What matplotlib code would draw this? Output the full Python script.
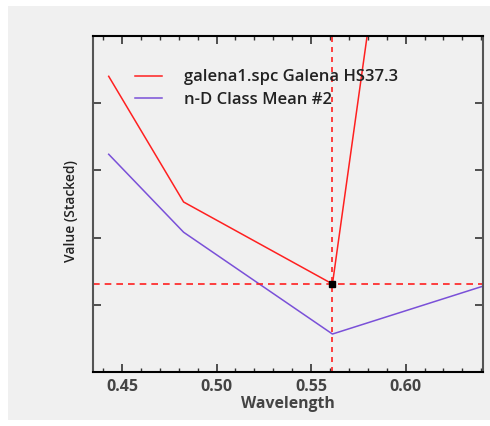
import matplotlib
matplotlib.use("Agg")
import matplotlib.pyplot as plt
from matplotlib.patches import Rectangle
from matplotlib.ticker import MultipleLocator

# Landsat-like band centres (micrometres)
wavelength = [0.4430, 0.4826, 0.5613, 0.6546]
galena = [4.40, 2.53, 1.31, 20.1]
class_mean = [3.24, 2.08, 0.565, 1.40]
cursor_x = 0.5613
cursor_y = 1.31

plt.rcParams['font.family'] = ['Open Sans', 'DejaVu Sans']

fig = plt.figure(figsize=(4.9, 4.26), dpi=100)
fig.patch.set_facecolor('white')
fig.patches.append(Rectangle((8 / 490, 6 / 426), 482 / 490, 414 / 426,
                             transform=fig.transFigure, facecolor='#f0f0f0',
                             edgecolor='none', zorder=-10))

ax = fig.add_axes([93 / 490, 1 - 372 / 426, 390 / 490, 336 / 426])
ax.set_facecolor('#f0f0f0')

ax.plot(wavelength, galena, color='#ff2020', lw=1.1, label='galena1.spc Galena HS37.3')
ax.plot(wavelength, class_mean, color='#7a50d8', lw=1.1, label='n-D Class Mean #2')

ax.axvline(cursor_x, color='#ff2020', ls=(0, (3, 3)), lw=1.2)
ax.axhline(cursor_y, color='#ff2020', ls=(0, (4, 3)), lw=1.2)
ax.plot([cursor_x], [cursor_y], marker='s', ms=5, color='black')

ax.set_xlim(0.4347, 0.6409)
ax.set_ylim(0, 5)
ax.xaxis.set_major_locator(MultipleLocator(0.05))
ax.xaxis.set_minor_locator(MultipleLocator(0.01))
ax.yaxis.set_major_locator(MultipleLocator(1))
ax.set_yticklabels([])
ax.tick_params(direction='in', top=True, right=True, which='both',
               colors='#333333', labelcolor='#444444')
ax.tick_params(which='major', length=6, width=1.2)
ax.tick_params(which='minor', length=3, width=1.0)
ax.tick_params(axis='x', labelsize=11.5, pad=5)
for lab in ax.get_xticklabels():
    lab.set_fontweight('bold')

for side in ['top', 'bottom', 'left', 'right']:
    ax.spines[side].set_linewidth(1.5)
ax.spines['left'].set_color('#555555')
ax.spines['right'].set_color('#555555')
ax.spines['top'].set_color('black')
ax.spines['bottom'].set_color('black')

ax.set_xlabel('Wavelength', fontsize=11.3, fontweight='bold', color='#444444', labelpad=1)
ax.set_ylabel('Value (Stacked)', fontsize=10, fontweight='semibold', color='#222222')
ax.yaxis.set_label_coords(-0.038, 0.48)

leg = ax.legend(loc='upper left', bbox_to_anchor=(0.07, 0.945), frameon=False,
                fontsize=12, handlelength=1.6, handletextpad=1.3, labelspacing=0.4)
for t in leg.get_texts():
    t.set_color('#222222')
    t.set_fontweight('semibold')

fig.savefig('out.png', dpi=100, facecolor='white')
